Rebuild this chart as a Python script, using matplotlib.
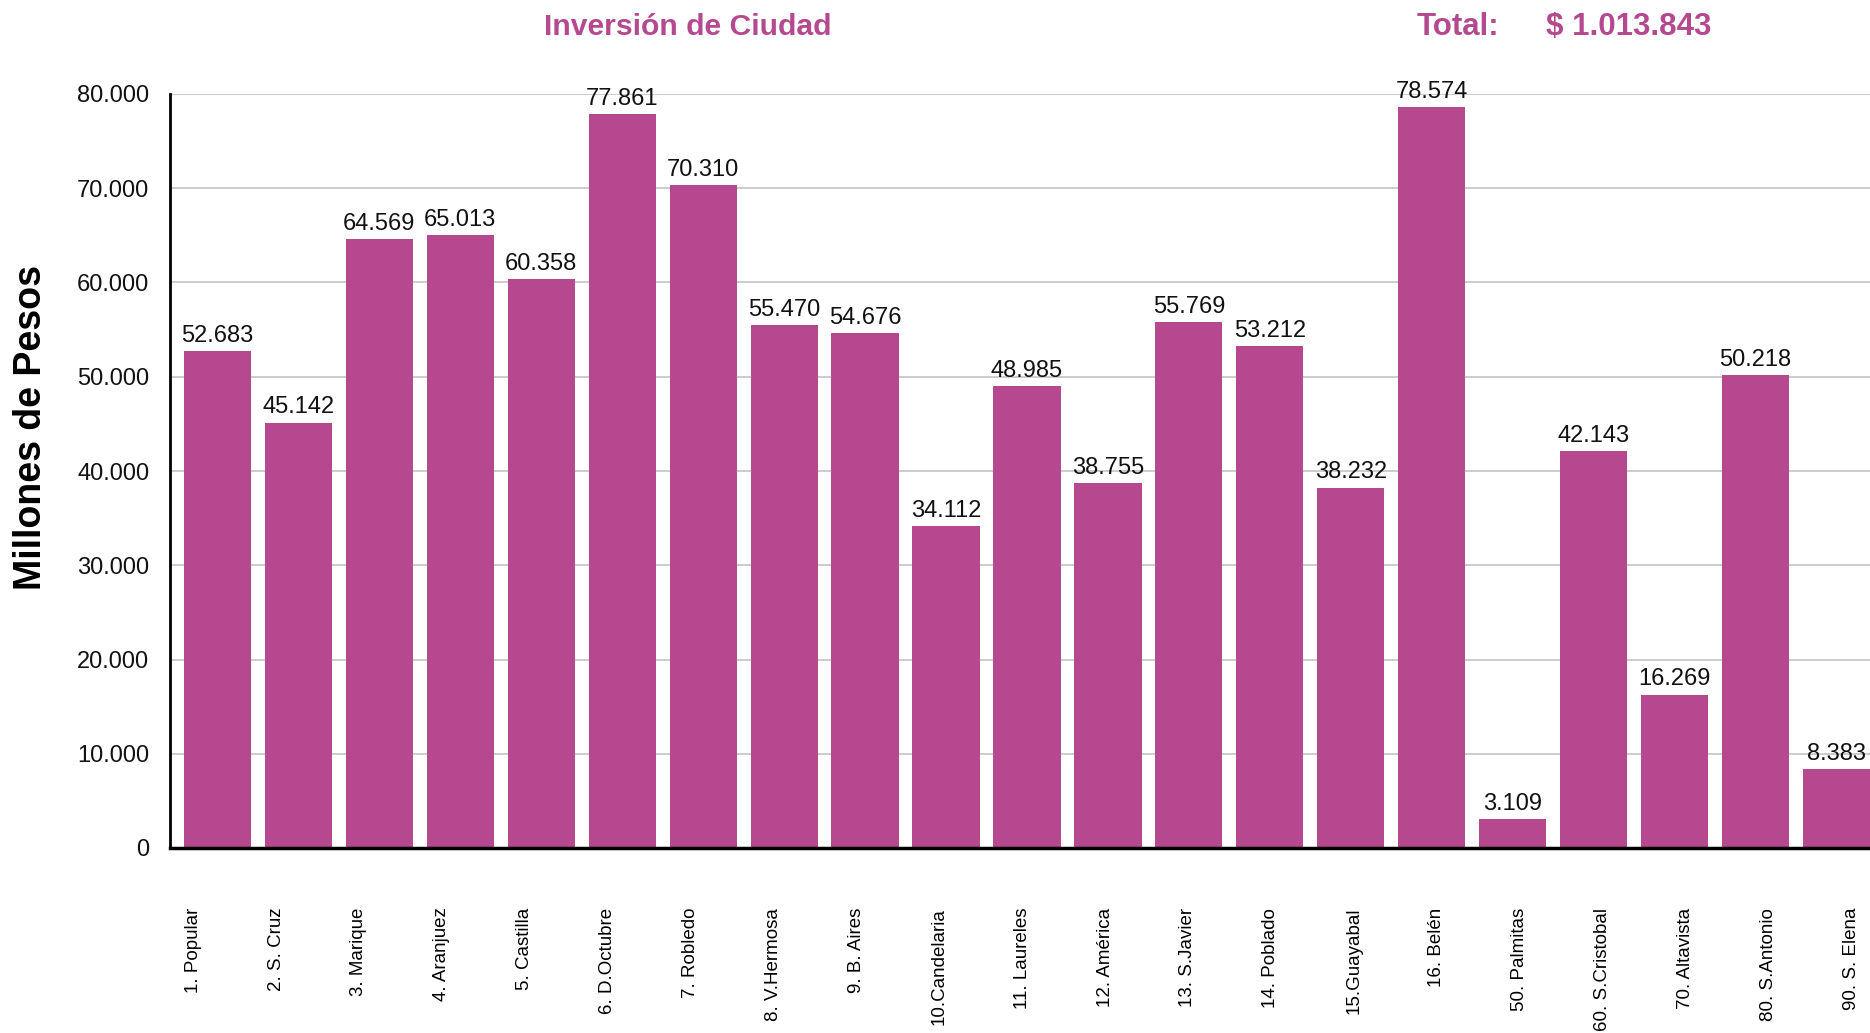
import matplotlib

matplotlib.use("Agg")
import matplotlib.pyplot as plt
import numpy as np
from matplotlib.ticker import FuncFormatter

plt.rcParams["font.family"] = ["Liberation Sans", "DejaVu Sans"]

comunas = [
    "1. Popular", "2. S. Cruz", "3. Marique", "4. Aranjuez", "5. Castilla",
    "6. D.Octubre", "7. Robledo", "8. V.Hermosa", "9. B. Aires", "10.Candelaria",
    "11. Laureles", "12. América", "13. S.Javier", "14. Poblado", "15.Guayabal",
    "16. Belén", "50. Palmitas", "60. S.Cristobal", "70. Altavista",
    "80. S.Antonio", "90. S. Elena",
]
inversion = [
    52683, 45142, 64569, 65013, 60358, 77861, 70310, 55470, 54676, 34112,
    48985, 38755, 55769, 53212, 38232, 78574, 3109, 42143, 16269, 50218, 8383,
]
y_ticks = [0, 10000, 20000, 30000, 40000, 50000, 60000, 70000, 80000]

BAR = "#B6488F"
TITLE = "#B5498F"


def miles(v):
    return f"{int(v):,}".replace(",", ".")


fig = plt.figure(figsize=(18.7, 10.33), dpi=100)
ax = fig.add_axes([170 / 1870, 1 - 848 / 1033, 1700 / 1870, 754 / 1033])

x = np.arange(len(comunas))
bars = ax.bar(x, inversion, width=0.83, color=BAR, zorder=2)
ax.bar_label(bars, labels=[miles(v) for v in inversion], padding=3,
             fontsize=17, color="#111111", clip_on=False)

ax.set_xlim(-0.586, len(comunas) - 1 + 0.414)
ax.set_ylim(0, 80000)
ax.set_yticks(y_ticks)
ax.yaxis.set_major_formatter(FuncFormatter(lambda v, _: miles(v)))
ax.tick_params(axis="y", length=0, pad=15, labelsize=17, labelcolor="#111111")

# tick labels in the source sit on a slightly wider pitch than the bars
ax.set_xticks(x * 1.024 - 0.30)
ax.set_xticklabels(comunas, rotation=90, fontsize=13.5, va="top", ha="center")
ax.tick_params(axis="x", length=0, pad=43)

ax.grid(axis="y", color="#C8C8C8", lw=1.3, zorder=0)
ax.set_axisbelow(True)
for s in ("top", "right"):
    ax.spines[s].set_visible(False)
ax.spines["left"].set_linewidth(2)
ax.spines["bottom"].set_linewidth(2.5)
ax.spines["left"].set_zorder(3)
ax.spines["bottom"].set_zorder(3)

fig.text(31 / 1870, 1 - 428 / 1033, "Millones de Pesos", rotation=90,
         fontsize=27, fontweight="bold", ha="center", va="center")

fig.text(688 / 1870, 1 - 27 / 1033, "Inversión de Ciudad", color=TITLE,
         fontsize=21.7, fontweight="bold", ha="center", va="center")
fig.text(1417 / 1870, 1 - 27 / 1033, "Total:", color=TITLE,
         fontsize=22.5, fontweight="bold", ha="left", va="center")
fig.text(1546 / 1870, 1 - 27 / 1033, "$ " + miles(sum(inversion)), color=TITLE,
         fontsize=22.5, fontweight="bold", ha="left", va="center")

fig.savefig("out.png", dpi=100, facecolor="white")
